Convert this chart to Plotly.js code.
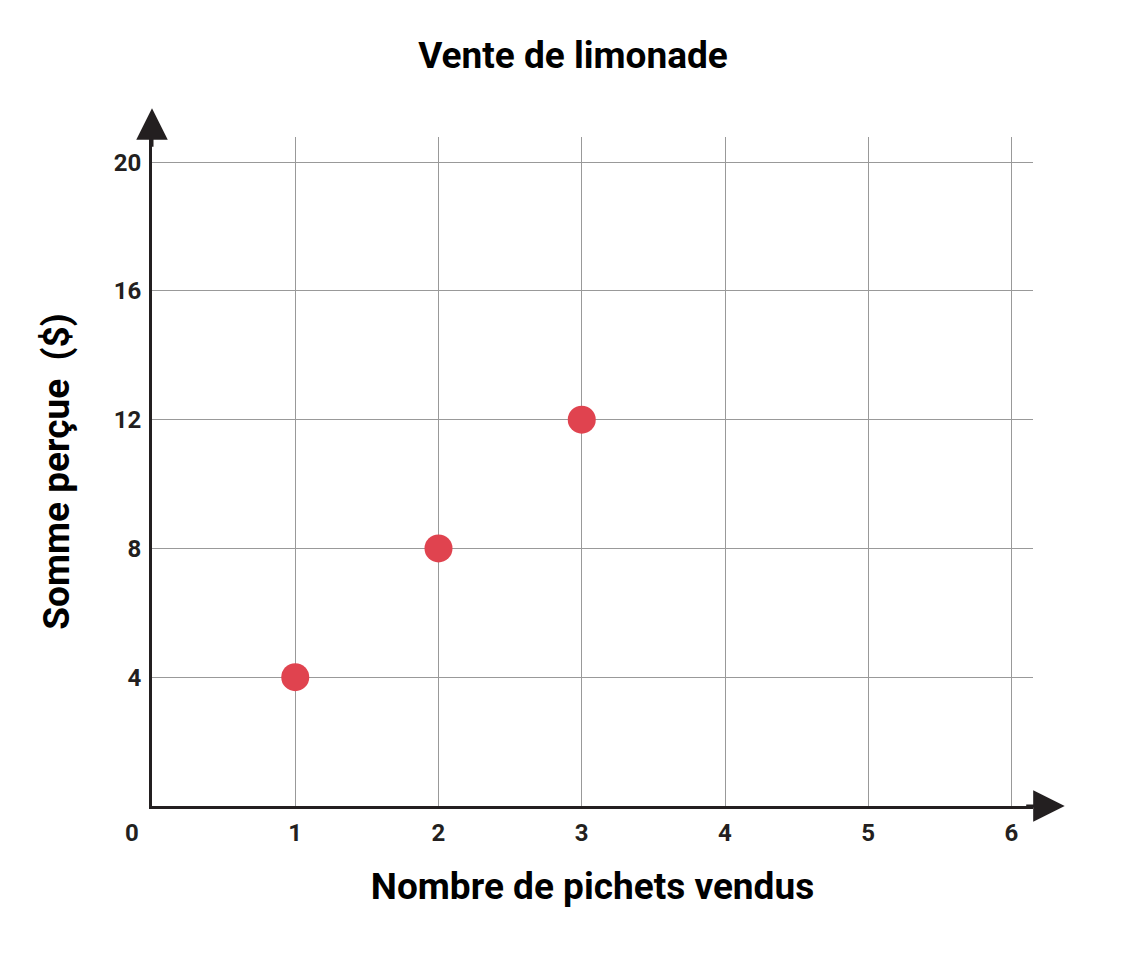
<!DOCTYPE html>
<html>
<head>
<meta charset="utf-8">
<script src="https://cdn.plot.ly/plotly-3.0.1.min.js"></script>
<style>html,body{margin:0;padding:0;background:#fff;}#chart{width:1146px;height:972px;}</style>
</head>
<body>
<div id="chart"></div>
<script>
const pitchers = [1, 2, 3];
const amounts = [4, 8, 12];
const xTicks = [1, 2, 3, 4, 5, 6];
const yTicks = [4, 8, 12, 16, 20];
const chartTitle = 'Vente de limonade';
const xTitle = 'Nombre de pichets vendus';
const yTitle = 'Somme perçue  ($)';

const ink = '#231f20';
const fontFam = 'Roboto, "Liberation Sans", sans-serif';

const trace = {
  x: pitchers, y: amounts, type: 'scatter', mode: 'markers',
  marker: {size: 28, color: '#e0434f'},
  cliponaxis: false, hoverinfo: 'skip'
};

const layout = {
  width: 1146, height: 972,
  margin: {l: 152, r: 113, t: 137, b: 166},
  paper_bgcolor: '#fff', plot_bgcolor: '#fff',
  showlegend: false,
  font: {family: fontFam, color: ink},
  title: {text: '<b>' + chartTitle + '</b>', font: {size: 37, color: '#000', family: fontFam},
          x: 0.5, xref: 'container', xanchor: 'center', y: 1 - 55/972, yref: 'container', yanchor: 'middle'},
  xaxis: {
    range: [0, 6.15], tickvals: xTicks, ticktext: xTicks.map(v => '<b>' + v + '</b>'),
    showgrid: true, gridcolor: '#999', gridwidth: 1, zeroline: false,
    showline: true, linecolor: ink, linewidth: 3,
    ticks: '', ticklabelstandoff: 3,
    tickfont: {size: 24, color: ink, family: fontFam},
    title: {text: '<b>' + xTitle + '</b>', font: {size: 37, color: '#000', family: fontFam}, standoff: 28}
  },
  yaxis: {
    range: [0, 20.78], tickvals: yTicks, ticktext: yTicks.map(v => '<b>' + v + '</b>'),
    showgrid: true, gridcolor: '#999', gridwidth: 1, zeroline: false,
    showline: true, linecolor: ink, linewidth: 3,
    ticks: '', ticklabelstandoff: 3,
    tickfont: {size: 24, color: ink, family: fontFam},
    title: {text: '<b>' + yTitle + '</b>', font: {size: 37, color: '#000', family: fontFam}, standoff: 33}
  },
  annotations: [
    {xref: 'paper', yref: 'paper', x: 0, y: 1.043, ax: 0, ay: 40, text: '', showarrow: true,
     arrowhead: 2, arrowsize: 2.1, arrowwidth: 3, arrowcolor: ink, standoff: 0},
    {xref: 'paper', yref: 'paper', x: 1.036, y: 0, ax: -40, ay: 0, text: '', showarrow: true,
     arrowhead: 2, arrowsize: 2.1, arrowwidth: 3, arrowcolor: ink, standoff: 0},
    {xref: 'paper', yref: 'paper', x: 0, y: 0, xshift: -20, yshift: -27, text: '<b>0</b>', showarrow: false,
     xanchor: 'center', yanchor: 'middle', font: {size: 24, color: ink, family: fontFam}}
  ]
};

Plotly.newPlot('chart', [trace], layout, {displayModeBar: false, staticPlot: true});
</script>
</body>
</html>
